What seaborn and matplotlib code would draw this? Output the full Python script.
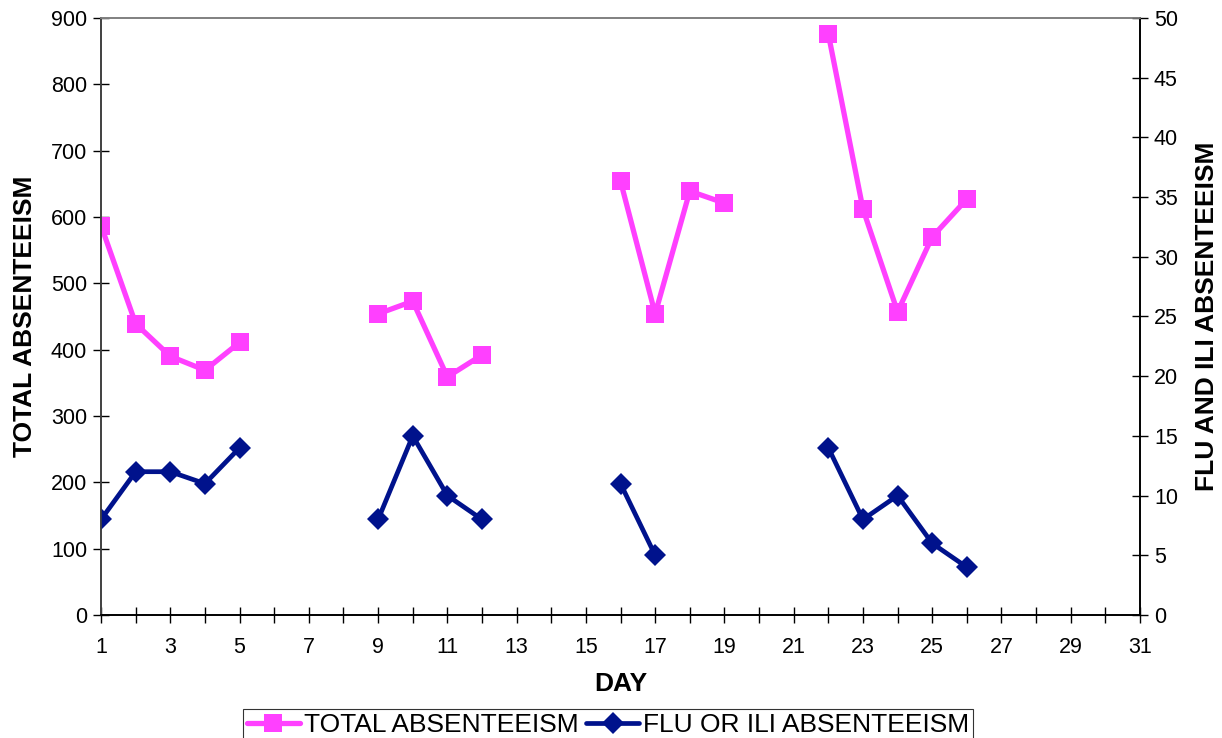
import matplotlib
matplotlib.use('Agg')
import matplotlib.pyplot as plt
from matplotlib.lines import Line2D
from matplotlib.ticker import MultipleLocator, FixedLocator
import pandas as pd
import seaborn as sns

# Data (days with no values are left out)
days = [1, 2, 3, 4, 5, 9, 10, 11, 12, 16, 17, 18, 19, 22, 23, 24, 25, 26]
week = [1, 1, 1, 1, 1, 2, 2, 2, 2, 3, 3, 3, 3, 4, 4, 4, 4, 4]
total_absent = [587, 439, 390, 369, 411, 454, 473, 359, 392,
                654, 454, 639, 621, 876, 612, 457, 570, 627]
flu_absent = [8, 12, 12, 11, 14, 8, 15, 10, 8,
              11, 5, None, None, 14, 8, 10, 6, 4]
day_ticks = list(range(1, 32, 2))

pink = '#FF40FF'
navy = '#00128C'

df = pd.DataFrame({'day': days, 'week': week,
                   'total': total_absent, 'flu': flu_absent})

sns.set_style('white')
plt.rcParams['font.family'] = ['Liberation Sans', 'DejaVu Sans']
plt.rcParams['text.color'] = 'black'
plt.rcParams['axes.labelcolor'] = 'black'

fig = plt.figure(figsize=(12.22, 7.38), dpi=100)
ax = fig.add_axes([0.0827, 0.1667, 0.8502, 0.8089])
ax2 = ax.twinx()

sns.lineplot(data=df, x='day', y='total', units='week', estimator=None,
             color=pink, marker='s', markersize=13, markeredgewidth=0,
             linewidth=3.8, ax=ax, legend=False)
sns.lineplot(data=df.dropna(subset=['flu']), x='day', y='flu', units='week',
             estimator=None, color=navy, marker='D', markersize=11.5,
             markeredgewidth=0, linewidth=3.4, ax=ax2, legend=False)

ax.set_xlim(1, 31)
ax.set_ylim(0, 900)
ax2.set_ylim(0, 50)
ax.xaxis.set_major_locator(FixedLocator(day_ticks))
ax.xaxis.set_minor_locator(MultipleLocator(1))
ax.yaxis.set_major_locator(MultipleLocator(100))
ax2.yaxis.set_major_locator(MultipleLocator(5))

ax.tick_params(axis='x', which='both', direction='inout', length=12,
               width=1, colors='black', labelsize=15.5, pad=10, bottom=True)
ax.tick_params(axis='y', direction='inout', length=12, width=1,
               colors='black', labelsize=15.5, pad=4, left=True)
ax2.tick_params(axis='y', direction='inout', length=12, width=1,
                colors='black', labelsize=15.5, pad=4, right=True)

for a in (ax, ax2):
    a.spines['top'].set_color('#808080')
    a.spines['left'].set_color('#404040')
    a.spines['bottom'].set_color('black')
    a.spines['right'].set_color('black')
    for s in a.spines.values():
        s.set_linewidth(1.2)

ax.set_xlabel('DAY', fontsize=19, fontweight='bold', labelpad=10)
ax.set_ylabel('TOTAL ABSENTEEISM', fontsize=19, fontweight='bold', labelpad=10)
ax2.set_ylabel('FLU AND ILI ABSENTEEISM', fontsize=19, fontweight='bold',
               labelpad=12, rotation=90)

handles = [Line2D([], [], color=pink, marker='s', markersize=13,
                  markeredgewidth=0, linewidth=3.8),
           Line2D([], [], color=navy, marker='D', markersize=11.5,
                  markeredgewidth=0, linewidth=3.4)]
leg = fig.legend(handles, ['TOTAL ABSENTEEISM', 'FLU OR ILI ABSENTEEISM'],
                 loc='lower center', bbox_to_anchor=(0.4975, -0.004), ncol=2,
                 fontsize=19, frameon=True, fancybox=False, handlelength=2.0,
                 handletextpad=0.15, columnspacing=0.3, borderpad=0.15,
                 borderaxespad=0)
leg.get_frame().set_edgecolor('black')
leg.get_frame().set_linewidth(0.8)

fig.savefig('out.png', dpi=100)
